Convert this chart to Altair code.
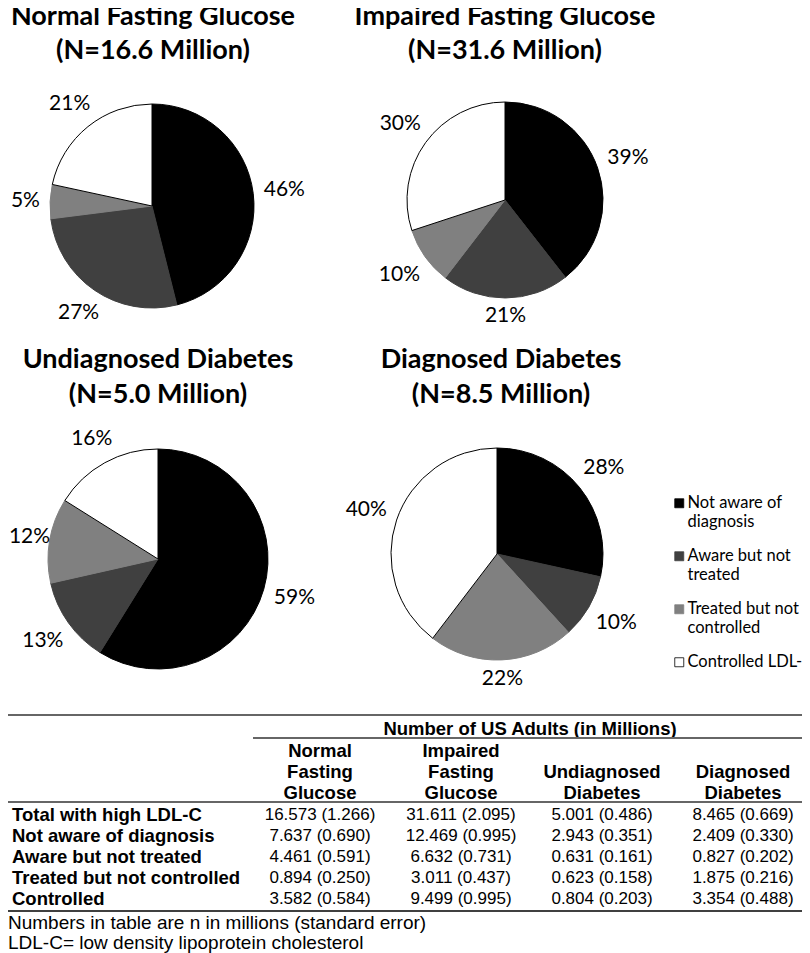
import math
import altair as alt
import pandas as pd

# ---------------- data ----------------
groups = ["Normal Fasting Glucose", "Impaired Fasting Glucose",
          "Undiagnosed Diabetes", "Diagnosed Diabetes"]
group_n = ["(N=16.6 Million)", "(N=31.6 Million)", "(N=5.0 Million)", "(N=8.5 Million)"]

categories = ["Not aware of diagnosis", "Aware but not treated",
              "Treated but not controlled", "Controlled LDL-C"]
legend_lines = [["Not aware of", "diagnosis"], ["Aware but not", "treated"],
                ["Treated but not", "controlled"], ["Controlled LDL-C"]]

# numbers in millions, per group (Normal, Impaired, Undiagnosed, Diagnosed)
total_high_ldl = [16.573, 31.611, 5.001, 8.465]
not_aware = [7.637, 12.469, 2.943, 2.409]
aware_not_treated = [4.461, 6.632, 0.631, 0.827]
treated_not_controlled = [0.894, 3.011, 0.623, 1.875]
controlled = [3.582, 9.499, 0.804, 3.354]

# standard errors
se_total = [1.266, 2.095, 0.486, 0.669]
se_not_aware = [0.690, 0.995, 0.351, 0.330]
se_aware = [0.591, 0.731, 0.161, 0.202]
se_treated = [0.250, 0.437, 0.158, 0.216]
se_controlled = [0.584, 0.995, 0.203, 0.488]

# percent labels printed on the pies
pct_labels = [[46, 27, 5, 21], [39, 21, 10, 30], [59, 13, 12, 16], [28, 10, 22, 40]]

table_rows = ["Total with high LDL-C", "Not aware of diagnosis", "Aware but not treated",
              "Treated but not controlled", "Controlled"]
table_header = "Number of US Adults (in Millions)"
footnotes = ["Numbers in table are n in millions (standard error)",
             "LDL-C= low density lipoprotein cholesterol"]

# ---------------- layout / style ----------------
W, H = 794, 945
pie_cx = [144, 497, 150, 489]
pie_cy = [198, 192, 551, 546]
pie_r = [102, 98, 110, 106]
title_x = [145, 497, 150, 493]
title_y1 = [9, 9, 352, 352]
title_y2 = [43, 43, 387, 387]
cat_colors = ["#000000", "#404040", "#808080", "#ffffff"]
cat_strokes = ["#000000", "#404040", "#808080", "#000000"]
PIE_FONT = "Lato"
TAB_FONT = "Liberation Sans"

# ---------------- build frames ----------------
series = [not_aware, aware_not_treated, treated_not_controlled, controlled]
recs = []
for gi, g in enumerate(groups):
    vals = [s[gi] for s in series]
    tot = sum(vals)
    cum = 0.0
    for ci, cat in enumerate(categories):
        frac = vals[ci] / tot
        mid = 2 * math.pi * (cum + frac / 2)
        cum += frac
        lab = f"{pct_labels[gi][ci]}%"
        # label distance: just outside the rim, allowing for the text box
        hw = (len(lab) - 1) * 6.1 + 8.3
        hh = 8
        lr = pie_r[gi] + 10 + hw * abs(math.sin(mid)) + hh * abs(math.cos(mid))
        if pie_cx[gi] + lr * math.sin(mid) - hw < 1:
            lr = (pie_cx[gi] - hw - 1) / (-math.sin(mid))
        recs.append(dict(group=g, cat=cat, order=ci, value=vals[ci],
                         frac=frac, lab=lab, lr=lr))
pie_df = pd.DataFrame(recs)

tab_series = [(total_high_ldl, se_total), (not_aware, se_not_aware),
              (aware_not_treated, se_aware), (treated_not_controlled, se_treated),
              (controlled, se_controlled)]
trecs = []
for ri, (vals, ses) in enumerate(tab_series):
    for gi, g in enumerate(groups):
        trecs.append(dict(row=table_rows[ri], col=g, txt=f"{vals[gi]:.3f} ({ses[gi]:.3f})"))
tab_df = pd.DataFrame(trecs)
row_df = pd.DataFrame({"row": table_rows})
# column headers: words stacked, padded at the top to three lines
hdr = []
for g in groups:
    words = g.split(" ")
    hdr.append("\n".join([""] * (3 - len(words)) + words))
col_df = pd.DataFrame({"col": groups, "hdr": hdr})
dummy = pd.DataFrame({"d": [0]})

# ---------------- encodings ----------------
label_expr = ""
for cat, lines in zip(categories, legend_lines):
    arr = "[" + ",".join(f"'{l}'" for l in lines) + "]"
    label_expr += f"datum.label == '{cat}' ? {arr} : "
label_expr += "datum.label"

theta_scale = alt.Scale(domain=[0, 1])
theta = alt.Theta("frac:Q", stack=True, scale=theta_scale)
fill = alt.Fill(
    "cat:N",
    scale=alt.Scale(domain=categories, range=cat_colors),
    legend=alt.Legend(
        title=None, orient="none", legendX=663, legendY=487,
        symbolType="square", symbolSize=81, symbolStrokeColor="#000000",
        symbolStrokeWidth=0.8, labelFont=PIE_FONT, labelFontSize=16.5,
        labelColor="#000000", labelOffset=0, labelLimit=0, rowPadding=17,
        labelExpr=label_expr, labelBaseline="middle", padding=0,
    ),
)
stroke = alt.Stroke("cat:N", scale=alt.Scale(domain=categories, range=cat_strokes), legend=None)
order = alt.Order("order:Q")

layers = []
for gi, g in enumerate(groups):
    base = alt.Chart(pie_df).transform_filter(alt.datum.group == g)
    layers.append(
        base.mark_arc(outerRadius=pie_r[gi], strokeWidth=1).encode(
            theta=theta, fill=fill, stroke=stroke, order=order,
            x=alt.value(pie_cx[gi]), y=alt.value(pie_cy[gi]))
    )
    layers.append(
        base.transform_stack(
            stack="frac", groupby=["group"], as_=["s0", "s1"],
            sort=[alt.SortField("order", order="ascending")],
        ).transform_calculate(mid="(datum.s0 + datum.s1) / 2")
        .mark_text(font=PIE_FONT, fontSize=21, color="#000000").encode(
            theta=alt.Theta("mid:Q", stack=False, scale=theta_scale),
            radius=alt.Radius("lr:Q", scale=None),
            text="lab:N",
            x=alt.value(pie_cx[gi]), y=alt.value(pie_cy[gi]))
    )
    for ty, t in ((title_y1[gi], g), (title_y2[gi], group_n[gi])):
        layers.append(
            alt.Chart(dummy).mark_text(font=PIE_FONT, fontSize=27, fontWeight="bold",
                                       color="#000000", baseline="middle").encode(
                x=alt.value(title_x[gi]), y=alt.value(ty), text=alt.value(t))
        )

# ---------------- table ----------------
xcol = alt.X("col:N", scale=alt.Scale(type="point", domain=groups, range=[312, 735], padding=0), axis=None)
yrow = alt.Y("row:N", scale=alt.Scale(type="point", domain=table_rows, range=[807, 891], padding=0), axis=None)

layers.append(
    alt.Chart(tab_df).mark_text(font=TAB_FONT, fontSize=17, color="#000000").encode(
        x=xcol, y=yrow, text="txt:N")
)
layers.append(
    alt.Chart(row_df).mark_text(font=TAB_FONT, fontSize=18.5, fontWeight="bold",
                                align="left", color="#000000").encode(
        x=alt.value(4), y=yrow, text="row:N")
)
layers.append(
    alt.Chart(col_df).mark_text(font=TAB_FONT, fontSize=18.5, fontWeight="bold",
                                baseline="middle", lineBreak="\n", lineHeight=21,
                                color="#000000").encode(
        x=xcol, y=alt.value(743), text="hdr:N")
)
layers.append(
    alt.Chart(dummy).mark_text(font=TAB_FONT, fontSize=18.5, fontWeight="bold",
                               color="#000000").encode(
        x=alt.value(522), y=alt.value(721), text=alt.value(table_header))
)
for fy, ft in zip([915, 935], footnotes):
    layers.append(
        alt.Chart(dummy).mark_text(font=TAB_FONT, fontSize=19, align="left",
                                   color="#000000").encode(
            x=alt.value(0), y=alt.value(fy), text=alt.value(ft))
    )
for (xa, xb, yy, col, sw) in [(0, W, 707, "#666666", 2), (245, W, 730, "#666666", 2),
                              (0, W, 794, "#666666", 2), (0, W, 903, "#000000", 1.5)]:
    layers.append(
        alt.Chart(dummy).mark_rule(color=col, strokeWidth=sw).encode(
            x=alt.value(xa), x2=alt.value(xb), y=alt.value(yy))
    )

chart = alt.layer(*layers).properties(
    width=W, height=H, padding=0, autosize=alt.AutoSizeParams(type="none")
).configure_view(stroke=None)

chart.save("out.html", embed_options={"renderer": "svg", "actions": False})
